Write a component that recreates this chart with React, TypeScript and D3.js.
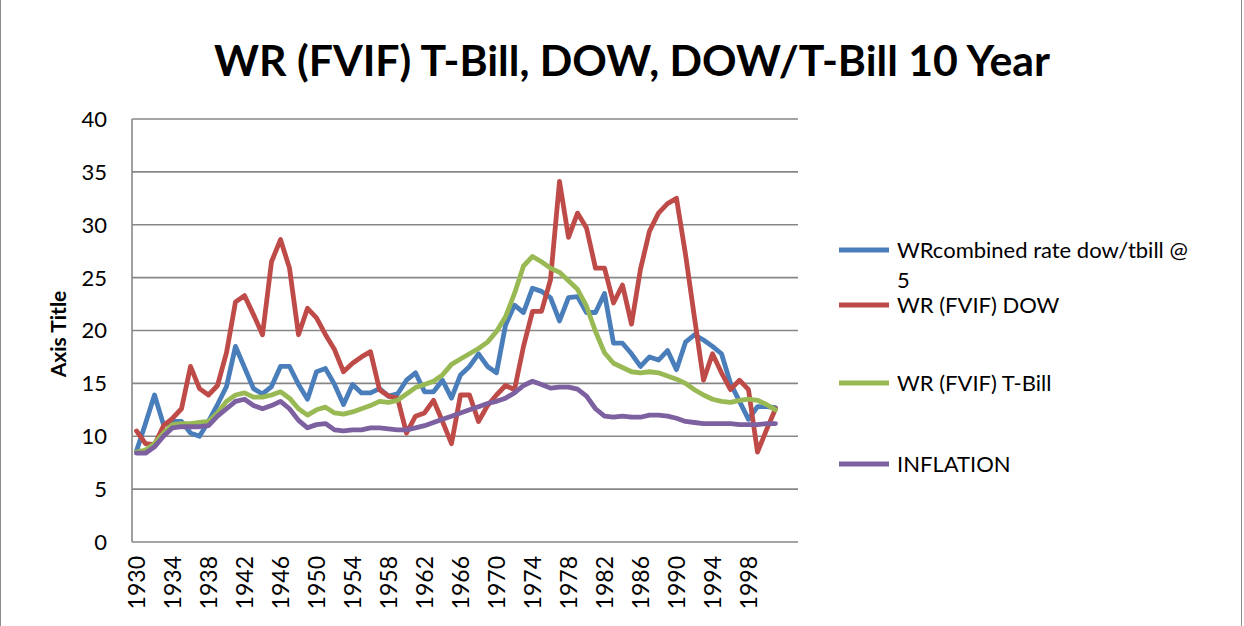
import React, { useEffect, useRef } from 'react';
import * as d3 from 'd3';

// categories (one slot per year; axis has room up to 2003)
const years = d3.range(1930, 2002);
const slots = d3.range(1930, 2004);
const tickYears = [1930, 1934, 1938, 1942, 1946, 1950, 1954, 1958, 1962, 1966, 1970, 1974, 1978, 1982, 1986, 1990, 1994, 1998];
const yTicks = [0, 5, 10, 15, 20, 25, 30, 35, 40];

const combined = [
  8.6, 11.2, 13.9, 11.1, 11.4, 11.4, 10.3, 10.0, 11.4, 13.0,
  14.7, 18.5, 16.5, 14.5, 14.0, 14.7, 16.6, 16.6, 14.9, 13.5,
  16.1, 16.4, 14.9, 13.0, 14.9, 14.1, 14.1, 14.5, 13.8, 14.0,
  15.3, 16.0, 14.2, 14.2, 15.3, 13.6, 15.8, 16.6, 17.8, 16.6,
  16.0, 20.5, 22.4, 21.7, 24.0, 23.7, 23.1, 20.9, 23.1, 23.2,
  21.7, 21.7, 23.5, 18.8, 18.8, 17.8, 16.6, 17.5, 17.2, 18.1,
  16.3, 18.9, 19.6, 19.1, 18.5, 17.8, 15.0, 13.3, 11.6, 12.8,
  12.8, 12.7,
];
const dow = [
  10.5, 9.3, 9.2, 11.0, 11.7, 12.6, 16.6, 14.5, 13.9, 14.8,
  17.9, 22.7, 23.3, 21.5, 19.6, 26.5, 28.6, 25.9, 19.6, 22.1,
  21.2, 19.6, 18.2, 16.1, 16.9, 17.5, 18.0, 14.4, 13.8, 13.6,
  10.3, 11.9, 12.2, 13.4, 11.4, 9.3, 13.9, 13.9, 11.4, 12.9,
  13.9, 14.8, 14.4, 18.5, 21.8, 21.8, 24.8, 34.1, 28.8, 31.1,
  29.7, 25.9, 25.9, 22.6, 24.3, 20.6, 25.8, 29.4, 31.1, 32.0,
  32.5, 27.2, 21.2, 15.3, 17.8, 16.0, 14.4, 15.3, 14.4, 8.5,
  10.6, 12.6,
];
const tbill = [
  8.5, 8.7, 9.3, 10.3, 11.1, 11.2, 11.2, 11.3, 11.4, 12.2,
  13.3, 13.9, 14.1, 13.7, 13.7, 13.9, 14.2, 13.6, 12.6, 12.0,
  12.5, 12.75, 12.2, 12.1, 12.3, 12.6, 12.9, 13.3, 13.2, 13.4,
  14.0, 14.6, 14.9, 15.2, 15.8, 16.8, 17.3, 17.8, 18.3, 18.9,
  19.9, 21.3, 23.5, 26.1, 27.0, 26.5, 25.9, 25.5, 24.7, 23.9,
  22.3, 19.9, 17.9, 16.9, 16.5, 16.1, 16.0, 16.1, 16.0, 15.7,
  15.4, 15.0, 14.4, 13.9, 13.5, 13.3, 13.2, 13.4, 13.5, 13.4,
  13.0, 12.5,
];
const inflation = [
  8.4, 8.4, 9.0, 10.0, 10.8, 10.9, 10.9, 10.9, 11.0, 11.9,
  12.6, 13.3, 13.5, 12.9, 12.6, 12.9, 13.3, 12.6, 11.5, 10.8,
  11.1, 11.2, 10.6, 10.5, 10.6, 10.6, 10.8, 10.8, 10.7, 10.6,
  10.6, 10.8, 11.0, 11.3, 11.6, 11.9, 12.2, 12.5, 12.8, 13.1,
  13.3, 13.6, 14.1, 14.8, 15.2, 14.9, 14.55, 14.65, 14.65, 14.45,
  13.8, 12.6, 11.9, 11.8, 11.9, 11.8, 11.8, 12.0, 12.0, 11.9,
  11.7, 11.4, 11.3, 11.2, 11.2, 11.2, 11.2, 11.1, 11.1, 11.1,
  11.2, 11.2,
];

const seriesNames = ['WRcombined rate dow/tbill @ 5', 'WR (FVIF) DOW', 'WR (FVIF) T-Bill', 'INFLATION'];
const seriesValues = [combined, dow, tbill, inflation];
const colors = ['#4A7EBB', '#BE4B48', '#98B954', '#7D60A0'];

const FONT = 'Lato, "Open Sans", sans-serif';

export default function App() {
  const svgRef = useRef<SVGSVGElement>(null);

  useEffect(() => {
    const width = 1244;
    const height = 626;
    const m = { left: 132, right: 798, top: 119, bottom: 542 };

    const svg = d3.select(svgRef.current);
    svg.selectAll('*').remove();
    svg.attr('width', width).attr('height', height);

    svg.append('rect')
      .attr('x', 0.5).attr('y', -5)
      .attr('width', 1241).attr('height', 700)
      .attr('fill', '#fff')
      .attr('stroke', '#8c8c8c');

    const x = d3.scaleBand<number>().domain(slots).range([m.left, m.right]);
    const xc = (yr: number) => (x(yr) as number) + x.bandwidth() / 2;
    const y = d3.scaleLinear().domain([0, 40]).range([m.bottom, m.top]);

    // title
    svg.append('text')
      .attr('x', 632).attr('y', 76)
      .attr('text-anchor', 'middle')
      .attr('font-family', FONT)
      .attr('font-weight', 'bold')
      .attr('font-size', 42)
      .attr('textLength', 836)
      .attr('lengthAdjust', 'spacingAndGlyphs')
      .text('WR (FVIF) T-Bill, DOW, DOW/T-Bill 10 Year');

    // gridlines
    svg.append('g')
      .selectAll('line')
      .data(yTicks)
      .enter().append('line')
      .attr('x1', m.left).attr('x2', m.right)
      .attr('y1', (d) => y(d)).attr('y2', (d) => y(d))
      .attr('stroke', '#878787')
      .attr('stroke-width', 1.6);

    // y axis line
    svg.append('line')
      .attr('x1', m.left).attr('x2', m.left)
      .attr('y1', m.top).attr('y2', m.bottom)
      .attr('stroke', '#878787')
      .attr('stroke-width', 1.6);

    // y tick labels
    svg.append('g')
      .selectAll('text')
      .data(yTicks)
      .enter().append('text')
      .attr('x', 107)
      .attr('y', (d) => y(d))
      .attr('dy', '0.36em')
      .attr('text-anchor', 'end')
      .attr('font-family', FONT)
      .attr('font-size', 22)
      .text((d) => d);

    // y axis title
    svg.append('text')
      .attr('transform', `translate(66, 334) rotate(-90)`)
      .attr('text-anchor', 'middle')
      .attr('font-family', FONT)
      .attr('font-weight', 'bold')
      .attr('font-size', 21)
      .text('Axis Title');

    // x tick labels
    svg.append('g')
      .selectAll('text')
      .data(tickYears)
      .enter().append('text')
      .attr('transform', (d) => `translate(${xc(d)}, 556) rotate(-90)`)
      .attr('dy', '0.36em')
      .attr('text-anchor', 'end')
      .attr('font-family', FONT)
      .attr('font-size', 23)
      .text((d) => d);

    // lines
    const line = d3.line<number>()
      .x((d, i) => xc(years[i]))
      .y((d) => y(d));

    svg.append('g')
      .selectAll('path')
      .data(seriesValues)
      .enter().append('path')
      .attr('d', (d) => line(d))
      .attr('fill', 'none')
      .attr('stroke', (d, i) => colors[i])
      .attr('stroke-width', 4.8)
      .attr('stroke-linejoin', 'round')
      .attr('stroke-linecap', 'round');

    // legend
    const legendRows = [250, 305, 383, 464];
    const legend = svg.append('g')
      .selectAll('g')
      .data(seriesNames)
      .enter().append('g')
      .attr('transform', (d, i) => `translate(0, ${legendRows[i]})`);

    legend.append('line')
      .attr('x1', 839).attr('x2', 889)
      .attr('y1', 0).attr('y2', 0)
      .attr('stroke', (d, i) => colors[i])
      .attr('stroke-width', 4.8);

    legend.append('text')
      .attr('x', 897)
      .attr('font-family', FONT)
      .attr('font-size', 22)
      .each(function (d) {
        const t = d3.select(this);
        if (d.startsWith('WRcombined')) {
          t.append('tspan').attr('x', 897).attr('dy', '0.36em').text('WRcombined rate dow/tbill @');
          t.append('tspan').attr('x', 897).attr('dy', 30).text('5');
        } else {
          t.append('tspan').attr('x', 897).attr('dy', '0.36em').text(d);
        }
      });
  }, []);

  return (
    <svg ref={svgRef} style={{ position: 'absolute', left: 0, top: 0 }}></svg>
  );
}
